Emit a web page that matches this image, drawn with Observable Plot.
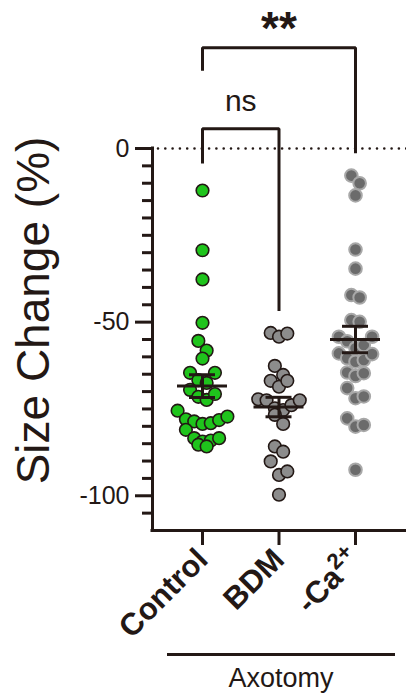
<!DOCTYPE html>
<html>
<head>
<meta charset="utf-8">
<script src="https://cdn.jsdelivr.net/npm/d3@7"></script>
<script src="https://cdn.jsdelivr.net/npm/@observablehq/plot@0.6"></script>
<style>
  html, body { margin: 0; padding: 0; background: #ffffff; }
  #wrap { position: relative; width: 406px; height: 698px; overflow: hidden; font-family: "Liberation Sans", Arial, Helvetica, sans-serif; color: #231815; }
  #wrap svg { position: absolute; left: 0; top: 0; overflow: visible; }
  #groupline { position: absolute; left: 167px; top: 653px; width: 228px; height: 3px; background: #231815; }
  #grouplabel { position: absolute; left: 167px; top: 665px; width: 228px; text-align: center; font-size: 27px; line-height: 27px; }
  g[aria-label="x-axis tick label"] text { font-weight: bold; }
</style>
</head>
<body>
<div id="wrap">
  <div id="groupline"></div>
  <div id="grouplabel">Axotomy</div>
</div>
<script>
// ---------- data ----------
const groups = ["Control", "BDM", "-Ca2+"];
const control = [-12.1, -29.3, -37.7, -50.2, -55.4, -58.2, -60.5, -64.6, -64.6, -66.7, -67.5, -69.5, -70.7, -71.5, -72.4, -75.5, -77.2, -78.0, -78.2, -78.6, -79.1, -79.3, -81.0, -83.4, -83.4, -84.1, -84.4, -85.3, -85.8];
const bdm = [-53.1, -53.3, -54.2, -62.6, -65.2, -66.9, -66.9, -68.6, -72.2, -72.5, -72.5, -73.9, -74.8, -75.3, -76.7, -79.3, -85.8, -87.3, -90.1, -93.0, -94.0, -99.7];
const calcium = [-7.8, -10.0, -13.5, -29.1, -34.6, -42.2, -42.9, -49.4, -49.9, -54.2, -54.2, -55.5, -56.6, -57.5, -59.0, -59.2, -60.4, -60.9, -61.4, -64.5, -64.7, -65.5, -69.0, -71.4, -71.9, -77.7, -79.6, -80.1, -92.5];
const yMajorTicks = [0, -50, -100];
const yMinorTicks = d3.range(-105, 0, 5).filter(t => t % 50 !== 0);
const yDomain = [-110, 0];
// significance annotations: compared groups and their labels
const comparisons = [
  {a: 0, b: 1, label: "ns", top: 5.7, endA: -4.3, endB: -46.8},
  {a: 0, b: 2, label: "**", top: 29.0, endA: 22.4, endB: -1.4}
];

// ---------- layout ----------
const W = 406, H = 610, ML = 152, MR = 0, MT = 148, MB = 80;
const pxPerY = (H - MT - MB) / (yDomain[1] - yDomain[0]);
const pxPerX = 76.5;
const x0 = -(202 - ML) / pxPerX;
const xDomain = [x0, x0 + (W - ML - MR) / pxPerX];
const ink = "#231815";
const styles = [
  {fill: "#1fc41c", stroke: ink, strokeWidth: 1.6},
  {fill: "#8c8c8c", stroke: ink, strokeWidth: 1.6},
  {fill: "#6b6b6b", stroke: "#a8a8a8", strokeWidth: 2}
];

// beeswarm-style rows (computed, GraphPad-like): group close values into rows, centre each row
function swarm(values, gi) {
  const sorted = values.slice().sort((p, q) => q - p);
  const rows = [];
  for (const v of sorted) {
    const row = rows[rows.length - 1];
    if (row && (row[0] - v) * pxPerY < 14) row.push(v); else rows.push([v]);
  }
  const step = 8.3;
  const out = [];
  for (const row of rows) {
    const n = row.length;
    const order = [];
    for (let i = 0; i < n; i += 2) order.push(row[i]);
    for (let i = (n % 2 ? n - 2 : n - 1); i > 0; i -= 2) order.push(row[i]);
    order.forEach((v, j) => out.push({g: gi, x: gi + (j - (n - 1) / 2) * step / pxPerX, y: v}));
  }
  return out;
}
const series = [control, bdm, calcium];
const points = series.map((vals, i) => swarm(vals, i));
const stats = series.map((vals, i) => {
  const m = d3.mean(vals), s = d3.deviation(vals) / Math.sqrt(vals.length);
  return {i, mean: m, lo: m - s, hi: m + s};
});

const bracketPaths = comparisons.flatMap((c, k) => [
  {k, x: c.a, y: c.endA}, {k, x: c.a, y: c.top}, {k, x: c.b, y: c.top}, {k, x: c.b, y: c.endB}
]);
const halfMean = 25 / pxPerX, halfCap = 13 / pxPerX;

const chart = Plot.plot({
  width: W, height: H,
  marginLeft: ML, marginRight: MR, marginTop: MT, marginBottom: MB,
  style: {fontFamily: '"Liberation Sans", Arial, Helvetica, sans-serif', color: ink, background: "transparent", overflow: "visible"},
  x: {domain: xDomain, axis: null},
  y: {domain: yDomain, axis: null},
  marks: [
    Plot.ruleY([0], {x1: xDomain[0], x2: xDomain[1], stroke: ink, strokeWidth: 2.6, strokeDasharray: "0 7.3", strokeLinecap: "round", dx: 6}),
    Plot.axisY({ticks: yMinorTicks, tickSize: 10, tickFormat: () => "", label: null, strokeWidth: 3, stroke: ink}),
    Plot.axisY({ticks: yMajorTicks, tickSize: 17, tickPadding: 6, tickFormat: d => String(d), fontSize: 25, label: null, strokeWidth: 3, stroke: ink, fill: ink}),
    Plot.axisX({ticks: [0, 1, 2], tickFormat: i => groups[i], tickRotate: -45, tickSize: 15, tickPadding: 9, fontSize: 31, fontWeight: "bold", label: null, strokeWidth: 3, stroke: ink, fill: ink}),
    Plot.ruleX([xDomain[0]], {y1: yDomain[0], y2: yDomain[1], stroke: ink, strokeWidth: 3, strokeLinecap: "square"}),
    Plot.ruleY([yDomain[0]], {x1: xDomain[0], x2: xDomain[1], stroke: ink, strokeWidth: 3, strokeLinecap: "square"}),
    Plot.text(["Size Change (%)"], {frameAnchor: "left", textAnchor: "middle", rotate: -90, dx: -118, dy: -29, fontSize: 46, fill: ink}),
    Plot.line(bracketPaths, {x: "x", y: "y", z: "k", stroke: ink, strokeWidth: 3, strokeLinejoin: "miter", strokeLinecap: "butt"}),
    Plot.text(comparisons.filter(c => c.label === "ns"), {x: c => (c.a + c.b) / 2, y: "top", text: "label", lineAnchor: "bottom", dy: -18, fontSize: 30, fill: ink}),
    Plot.text(comparisons.filter(c => c.label !== "ns"), {x: c => (c.a + c.b) / 2, y: "top", text: "label", lineAnchor: "bottom", dy: -4, fontSize: 46, fontWeight: "bold", fill: ink}),
    ...points.map((pts, i) => Plot.dot(pts, {x: "x", y: "y", r: 6.3, ...styles[i]})),
    Plot.ruleY(stats, {y: "mean", x1: d => d.i - halfMean, x2: d => d.i + halfMean, stroke: ink, strokeWidth: 3}),
    Plot.ruleY(stats, {y: "hi", x1: d => d.i - halfCap, x2: d => d.i + halfCap, stroke: ink, strokeWidth: 3}),
    Plot.ruleY(stats, {y: "lo", x1: d => d.i - halfCap, x2: d => d.i + halfCap, stroke: ink, strokeWidth: 3}),
    Plot.ruleX(stats, {x: "i", y1: "lo", y2: "hi", stroke: ink, strokeWidth: 3})
  ]
});

// superscript for "-Ca2+"
d3.select(chart).selectAll("text").each(function() {
  if (this.textContent === "-Ca2+") {
    const t = d3.select(this);
    t.text("");
    t.append("tspan").text("-Ca");
    t.append("tspan").attr("dy", "-0.55em").attr("font-size", "0.72em").text("2+");
  }
});

document.getElementById("wrap").prepend(chart);
</script>
</body>
</html>
